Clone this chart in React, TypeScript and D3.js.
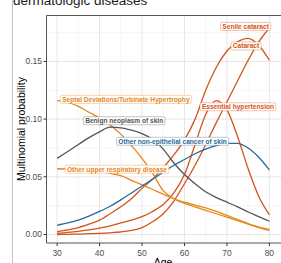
import * as d3 from "d3";
import { useEffect, useRef } from "react";

// ages at which the fitted probabilities were read
const ages = [
  30, 32.5, 35, 37.5, 40, 42.5, 45, 47.5, 50, 52.5, 55, 57.5, 60, 62.5, 65,
  67.5, 70, 72.5, 75, 77.5, 80,
];

const senileCataract = [
  0.0, 0.0002, 0.0004, 0.0007, 0.001, 0.0015, 0.0022, 0.0035, 0.006, 0.011,
  0.018, 0.029, 0.044, 0.06, 0.078, 0.097, 0.115, 0.133, 0.151, 0.167, 0.179,
];
const cataract = [
  0.0024, 0.004, 0.006, 0.009, 0.0125, 0.018, 0.024, 0.031, 0.04, 0.048, 0.058,
  0.069, 0.082, 0.1, 0.125, 0.145, 0.159, 0.167, 0.17, 0.164, 0.151,
];
const essentialHypertension = [
  0.001, 0.0018, 0.0028, 0.004, 0.0056, 0.0075, 0.01, 0.0125, 0.0155, 0.02,
  0.026, 0.036, 0.052, 0.078, 0.104, 0.116, 0.108, 0.085, 0.057, 0.033, 0.017,
];
const septalDeviations = [
  0.116, 0.1145, 0.111, 0.106, 0.101, 0.095, 0.087, 0.077, 0.066, 0.053, 0.038,
  0.031, 0.027, 0.024, 0.021, 0.018, 0.015, 0.012, 0.009, 0.006, 0.0035,
];
const otherUpperRespiratory = [
  0.057, 0.0567, 0.0562, 0.0555, 0.0545, 0.053, 0.051, 0.047, 0.043, 0.039,
  0.035, 0.031, 0.028, 0.0255, 0.023, 0.02, 0.0165, 0.013, 0.0095, 0.0065,
  0.0045,
];
const benignNeoplasm = [
  0.066, 0.072, 0.078, 0.084, 0.089, 0.093, 0.0925, 0.0905, 0.0875, 0.0825,
  0.074, 0.062, 0.052, 0.044, 0.037, 0.032, 0.028, 0.024, 0.0195, 0.0155,
  0.0115,
];
const otherSkinCancer = [
  0.008, 0.01, 0.0125, 0.016, 0.02, 0.0245, 0.03, 0.036, 0.042, 0.048, 0.054,
  0.06, 0.065, 0.07, 0.074, 0.077, 0.079, 0.079, 0.075, 0.067, 0.056,
];

const xTicks = [30, 40, 50, 60, 70, 80];
const xMinor = [35, 45, 55, 65, 75];
const yTicks = [0, 0.05, 0.1, 0.15];
const yMinor = [0.025, 0.075, 0.125, 0.175];

const RED = "#d4531b";
const ORANGE = "#e5871c";

export default function App() {
  const ref = useRef<SVGSVGElement | null>(null);

  useEffect(() => {
    const width = 281;
    const height = 263;
    const left = 46.5;
    const top = 15.5;
    const bottom = 243;
    const right = 281;

    const svg = d3.select(ref.current);
    svg.selectAll("*").remove();
    svg.attr("width", width).attr("height", height);

    const font = "'Liberation Sans', Arial, sans-serif";

    const x = d3.scaleLinear().domain([27.5, 82.5]).range([left, 280]);
    const y = d3.scaleLinear().domain([-0.00735, 0.1898]).range([bottom, top]);

    const series = [
      { name: "Senile cataract", color: RED, values: senileCataract },
      { name: "Cataract", color: RED, values: cataract },
      { name: "Essential hypertension", color: RED, values: essentialHypertension },
      { name: "Septal Deviations/Turbinate Hypertrophy", color: ORANGE, values: septalDeviations },
      { name: "Other upper respiratory disease", color: ORANGE, values: otherUpperRespiratory },
      { name: "Benign neoplasm of skin", color: "#555555", values: benignNeoplasm },
      { name: "Other non-epithelial cancer of skin", color: "#2c6a96", values: otherSkinCancer },
    ];

    // label anchors in data units (age, probability)
    const labelAt: Record<string, [number, number]> = {
      "Senile cataract": [74.4, 0.1803],
      Cataract: [74.5, 0.1634],
      "Essential hypertension": [72.6, 0.1107],
      "Septal Deviations/Turbinate Hypertrophy": [46.2, 0.1171],
      "Benign neoplasm of skin": [45.8, 0.0986],
      "Other non-epithelial cancer of skin": [57.2, 0.0808],
      "Other upper respiratory disease": [44.1, 0.0566],
    };

    // ===== outer frame + title =====
    svg
      .append("line")
      .attr("x1", 12.5)
      .attr("x2", 12.5)
      .attr("y1", 0)
      .attr("y2", height)
      .attr("stroke", "#c4c4c4")
      .attr("stroke-width", 1);

    svg
      .append("text")
      .attr("x", 13)
      .attr("y", 4.5)
      .attr("font-family", font)
      .attr("font-size", 13.5)
      .attr("fill", "#1a1a1a")
      .text("dermatologic diseases");

    // ===== grid =====
    const grid = svg.append("g");
    xMinor.forEach((v) =>
      grid
        .append("line")
        .attr("x1", x(v))
        .attr("x2", x(v))
        .attr("y1", top)
        .attr("y2", bottom)
        .attr("stroke", "#f0f0f0")
        .attr("stroke-width", 0.6),
    );
    yMinor.forEach((v) =>
      grid
        .append("line")
        .attr("x1", left)
        .attr("x2", right)
        .attr("y1", y(v))
        .attr("y2", y(v))
        .attr("stroke", "#f0f0f0")
        .attr("stroke-width", 0.6),
    );
    xTicks.forEach((v) =>
      grid
        .append("line")
        .attr("x1", x(v))
        .attr("x2", x(v))
        .attr("y1", top)
        .attr("y2", bottom)
        .attr("stroke", "#e6e6e6")
        .attr("stroke-width", 1),
    );
    yTicks.forEach((v) =>
      grid
        .append("line")
        .attr("x1", left)
        .attr("x2", right)
        .attr("y1", y(v))
        .attr("y2", y(v))
        .attr("stroke", "#e6e6e6")
        .attr("stroke-width", 1),
    );

    // ===== curves =====
    const line = d3
      .line<number>()
      .x((_, i) => x(ages[i]))
      .y((d) => y(d))
      .curve(d3.curveMonotoneX);

    svg
      .append("g")
      .selectAll("path")
      .data(series)
      .enter()
      .append("path")
      .attr("d", (d) => line(d.values))
      .attr("fill", "none")
      .attr("stroke", (d) => d.color)
      .attr("stroke-width", 1.3);

    // ===== panel border =====
    svg
      .append("path")
      .attr("d", `M${right},${top}H${left}V${bottom}H${right}`)
      .attr("fill", "none")
      .attr("stroke", "#555555")
      .attr("stroke-width", 1);

    // ===== axes =====
    const yAxis = svg.append("g");
    yTicks.forEach((v) => {
      yAxis
        .append("line")
        .attr("x1", left - 3)
        .attr("x2", left)
        .attr("y1", y(v))
        .attr("y2", y(v))
        .attr("stroke", "#333333");
      yAxis
        .append("text")
        .attr("x", left - 4.5)
        .attr("y", y(v))
        .attr("dy", "0.35em")
        .attr("text-anchor", "end")
        .attr("font-family", font)
        .attr("font-size", 8.5)
        .attr("fill", "#4d4d4d")
        .text(d3.format(".2f")(v));
    });

    const xAxis = svg.append("g");
    xTicks.forEach((v) => {
      xAxis
        .append("line")
        .attr("x1", x(v))
        .attr("x2", x(v))
        .attr("y1", bottom)
        .attr("y2", bottom + 3)
        .attr("stroke", "#333333");
      xAxis
        .append("text")
        .attr("x", x(v))
        .attr("y", bottom + 13)
        .attr("text-anchor", "middle")
        .attr("font-family", font)
        .attr("font-size", 8.5)
        .attr("fill", "#4d4d4d")
        .text(v);
    });

    svg
      .append("text")
      .attr("transform", `translate(24.5,129) rotate(-90)`)
      .attr("text-anchor", "middle")
      .attr("font-family", font)
      .attr("font-size", 10.5)
      .attr("fill", "#000")
      .text("Multinomial probability");

    svg
      .append("text")
      .attr("x", 163)
      .attr("y", 266)
      .attr("text-anchor", "middle")
      .attr("font-family", font)
      .attr("font-size", 10.5)
      .attr("fill", "#000")
      .text("Age");

    // ===== labels =====
    const labels = svg.append("g");
    series.forEach((s) => {
      const [a, p] = labelAt[s.name];
      const g = labels.append("g");
      const rect = g.append("rect");
      const t = g
        .append("text")
        .attr("x", x(a))
        .attr("y", y(p))
        .attr("dy", "0.36em")
        .attr("text-anchor", "middle")
        .attr("font-family", font)
        .attr("font-weight", "bold")
        .attr("font-size", 6.6)
        .attr("fill", s.color)
        .text(s.name);
      const w = (t.node() as SVGTextElement).getComputedTextLength();
      rect
        .attr("x", x(a) - w / 2 - 1.8)
        .attr("y", y(p) - 4)
        .attr("width", w + 3.6)
        .attr("height", 8)
        .attr("rx", 1.2)
        .attr("fill", "white")
        .attr("stroke", s.color)
        .attr("stroke-width", 0.5)
        .attr("stroke-opacity", 0.7);
    });
  }, []);

  return (
    <svg
      ref={ref}
      style={{ position: "absolute", left: 0, top: 0, background: "white" }}
    />
  );
}
